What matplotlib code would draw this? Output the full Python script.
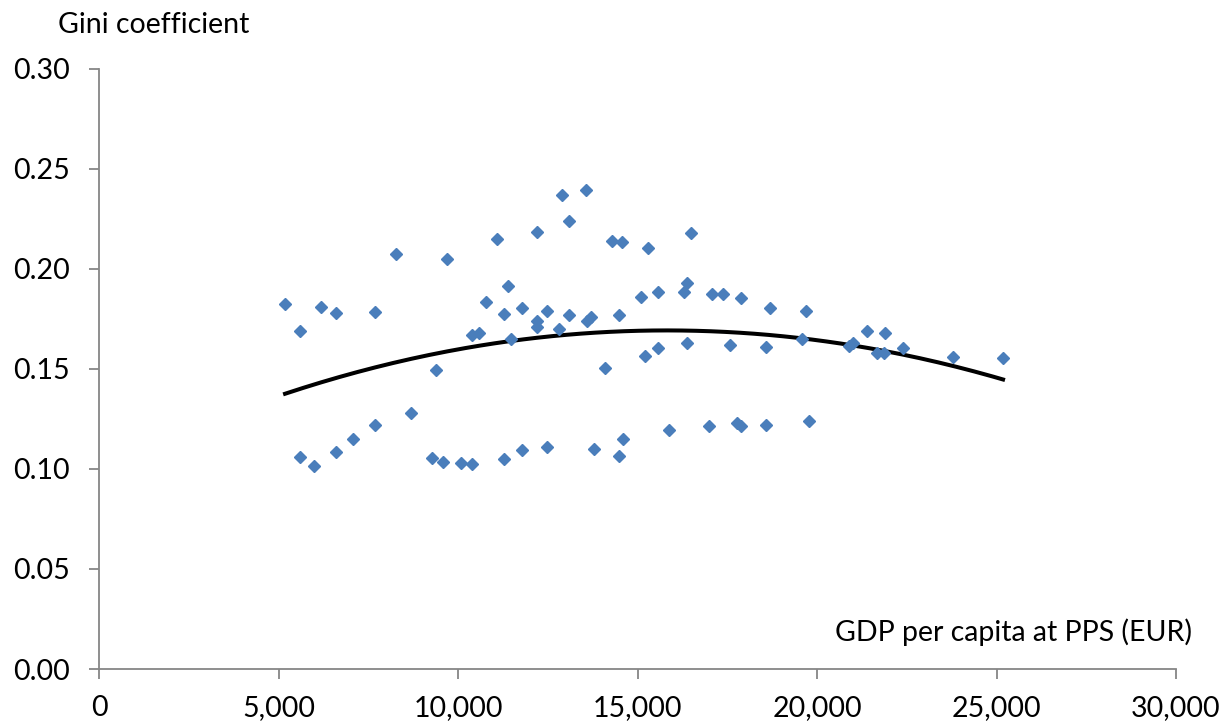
import matplotlib.pyplot as plt
import numpy as np

# GDP per capita at PPS (EUR) and Gini coefficient
gdp = [5181, 5591, 5591, 5989, 6184, 6593, 6593, 7084, 7688, 7688,
       8281, 8691, 9284, 9387, 9591, 9694, 10084, 10382, 10382, 10593,
       10788, 11086, 11290, 11290, 11384, 11485, 11783, 11783, 12187, 12192,
       12192, 12487, 12487, 12799, 12889, 13084, 13092, 13574, 13579, 13696,
       13788, 14086, 14290, 14485, 14476, 14577, 14588, 15084, 15201, 15284,
       15579, 15579, 15886, 16287, 16387, 16387, 16482, 16983, 17084, 17382,
       17585, 17772, 17875, 17883, 18588, 18588, 18682, 19685, 19777, 19591,
       20891, 20989, 21384, 21680, 21875, 21894, 22387, 23788, 25181]
gini = [0.1822, 0.1688, 0.1061, 0.1013, 0.1808, 0.1085, 0.1781, 0.1151, 0.1786, 0.1221,
        0.2074, 0.1279, 0.1053, 0.1496, 0.1036, 0.2047, 0.1031, 0.1026, 0.1671, 0.1681,
        0.1832, 0.2147, 0.1774, 0.1051, 0.1913, 0.1651, 0.1093, 0.1804, 0.2184, 0.1741,
        0.1711, 0.1791, 0.1109, 0.1698, 0.2369, 0.1769, 0.2240, 0.2394, 0.1741, 0.1758,
        0.1099, 0.1504, 0.2139, 0.1064, 0.1771, 0.2133, 0.1151, 0.1857, 0.1566, 0.2104,
        0.1882, 0.1606, 0.1193, 0.1886, 0.1929, 0.1628, 0.2181, 0.1214, 0.1872, 0.1872,
        0.1619, 0.1231, 0.1214, 0.1855, 0.1221, 0.1608, 0.1802, 0.1789, 0.1239, 0.1648,
        0.1612, 0.1628, 0.1691, 0.1578, 0.1581, 0.1681, 0.1606, 0.1559, 0.1553]

x_ticks = [0, 5000, 10000, 15000, 20000, 25000, 30000]
y_ticks = [0.0, 0.05, 0.10, 0.15, 0.20, 0.25, 0.30]

plt.rcParams['font.family'] = ['Lato', 'DejaVu Sans']

fig = plt.figure(figsize=(12.23, 7.26), dpi=100)
ax = fig.add_axes([0.081, 0.0785, 0.8806, 0.827])

x = np.array(gdp, dtype=float)
y = np.array(gini)

# polynomial (order 2) trend line, as in the original
coef = np.polyfit(x, y, 2)
xs = np.linspace(x.min(), x.max(), 200)
ax.plot(xs, np.polyval(coef, xs), color='black', lw=2.9, zorder=2)

ax.plot(x, y, linestyle='none', marker='D', ms=6.5, color='#4a7ebb',
        markeredgecolor='#4a7ebb', zorder=3)

ax.set_xlim(0, 30000)
ax.set_ylim(0, 0.30)
ax.set_xticks(x_ticks)
ax.set_xticklabels([f'{v:,}' for v in x_ticks])
ax.set_yticks(y_ticks)
ax.set_yticklabels([f'{v:.2f}' for v in y_ticks])

for side in ['top', 'right']:
    ax.spines[side].set_visible(False)
for side in ['left', 'bottom']:
    ax.spines[side].set_color('#868686')
    ax.spines[side].set_linewidth(1.3)
ax.tick_params(axis='both', direction='out', length=7, width=1.3,
               color='#868686', labelsize=20.5, labelcolor='black')
ax.tick_params(axis='x', pad=12)
ax.tick_params(axis='y', pad=14)

fig.text(58 / 1223, 1 - 25 / 726, 'Gini coefficient', fontsize=20.5,
         ha='left', va='center')
fig.text(1192 / 1223, 1 - 632 / 726, 'GDP per capita at PPS (EUR)', fontsize=20.5,
         ha='right', va='center')

fig.savefig('out.png', dpi=100)
